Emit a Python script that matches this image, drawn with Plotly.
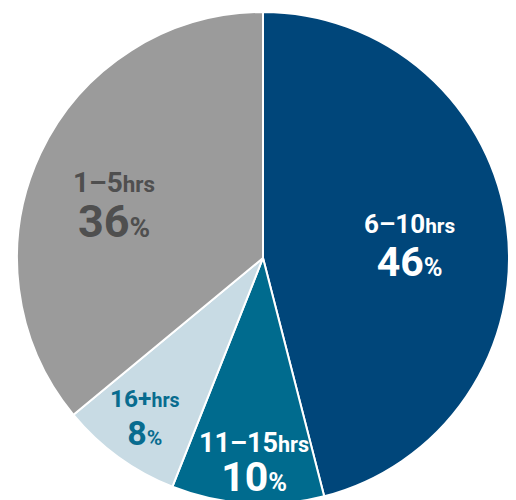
import math
import plotly.graph_objects as go

# ---- data ----
categories = ["6–10", "11–15", "16+", "1–5"]
shares = [46, 10, 8, 36]

# ---- style ----
colors = ["#00467a", "#006b8e", "#c8dbe4", "#9b9b9b"]
text_colors = ["#ffffff", "#ffffff", "#086c8f", "#4f4f4f"]
label_r = [0.597, 0.82, 0.80, 0.646]        # radial position of label (fraction of radius)
label_da = [1.3, -1.0, 1.0, -4.4]           # angle tweak (deg)
size1 = [26, 27, 24.5, 28]                  # first line (category) font size
size2 = [41, 41, 34, 45]                    # second line (percent) font size
half_gap = [19, 17, 17.5, 19.5]

W, H = 516, 510
cx, cy, R = 263, 258, 246
FONT = "Roboto"
ASC, DESC, CAPC = 0.93, 0.24, 0.355

fig = go.Figure(go.Pie(
    labels=categories,
    values=shares,
    sort=False,
    direction="clockwise",
    rotation=0,
    marker=dict(colors=colors, line=dict(color="#ffffff", width=2)),
    textinfo="none",
    hoverinfo="skip",
    showlegend=False,
    domain=dict(x=[(cx - R) / W, (cx + R) / W], y=[1 - (cy + R) / H, 1 - (cy - R) / H]),
))

total = sum(shares)
cum = 0
annotations = []
for i, (cat, v) in enumerate(zip(categories, shares)):
    mid = (cum + v / 2) / total * 360 + label_da[i]
    cum += v
    a = math.radians(mid)
    px = cx + R * label_r[i] * math.sin(a)
    py = cy - R * label_r[i] * math.cos(a)
    s1, s2 = size1[i], size2[i]
    b1 = py - half_gap[i] + CAPC * s1
    b2 = py + half_gap[i] + CAPC * s2
    base = (b2 - b1) / 1.3
    yc = (b1 - ASC * s1 + b2 + DESC * s2) / 2
    line1 = (f"<span style='font-size:{s1}px'><b>{cat}</b></span>"
             f"<span style='font-size:{s1*0.8:.1f}px'><b>hrs</b></span>")
    line2 = (f"<span style='font-size:{s2}px'><b>{v}</b></span>"
             f"<span style='font-size:{s2*0.62:.1f}px'><b>%</b></span>")
    annotations.append(dict(
        x=px / W, y=1 - yc / H, xref="paper", yref="paper",
        xanchor="center", yanchor="middle", showarrow=False, align="center",
        text=line1 + "<br>" + line2,
        font=dict(family=FONT, size=base, color=text_colors[i]),
    ))

fig.update_layout(
    width=W, height=H, autosize=False,
    margin=dict(l=0, r=0, t=0, b=0),
    paper_bgcolor="#ffffff", plot_bgcolor="#ffffff",
    annotations=annotations,
)

fig.write_html(
    "out.html",
    config={"displayModeBar": False},
    post_script="document.body.style.margin='0';document.body.style.overflow='hidden';document.documentElement.style.overflow='hidden';",
)
